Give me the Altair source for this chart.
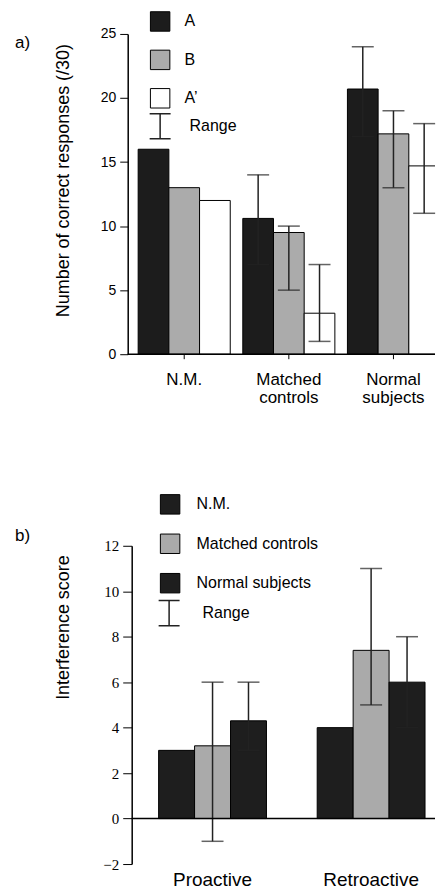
import altair as alt
import pandas as pd

SANS = "Liberation Sans"
SERIF = "Liberation Serif"

# ---------------- Panel a data ----------------
groups_a = ["N.M.", "Matched controls", "Normal subjects"]
conds_a = ["A", "B", "A’"]
mean_a_A = [16.0, 10.6, 20.7]
mean_a_B = [13.0, 9.5, 17.2]
mean_a_Ap = [12.0, 3.2, 14.7]
low_a_A = [None, 7.0, 17.0]
high_a_A = [None, 14.0, 24.0]
low_a_B = [None, 5.0, 13.0]
high_a_B = [None, 10.0, 19.0]
low_a_Ap = [None, 1.0, 11.0]
high_a_Ap = [None, 7.0, 18.0]
yticks_a = [0, 5, 10, 15, 20, 25]
colors_a = ["#1c1c1c", "#ababab", "#ffffff"]

# ---------------- Panel b data ----------------
types_b = ["Proactive", "Retroactive"]
groups_b = ["N.M.", "Matched controls", "Normal subjects"]
mean_b_NM = [3.0, 4.0]
mean_b_MC = [3.2, 7.4]
mean_b_NS = [4.3, 6.0]
low_b_MC = [-1.0, 5.0]
high_b_MC = [6.0, 11.0]
low_b_NS = [3.0, 4.0]
high_b_NS = [6.0, 8.0]
yticks_b = [-2, 0, 2, 4, 6, 8, 10, 12]
colors_b = ["#1e1e1e", "#aaaaaa", "#1e1e1e"]

# ---------------- tables ----------------
rows_a = []
for cond, means, lows, highs in [
    (conds_a[0], mean_a_A, low_a_A, high_a_A),
    (conds_a[1], mean_a_B, low_a_B, high_a_B),
    (conds_a[2], mean_a_Ap, low_a_Ap, high_a_Ap),
]:
    for g, m, lo, hi in zip(groups_a, means, lows, highs):
        rows_a.append({"group": g, "cond": cond, "mean": m, "low": lo, "high": hi, "kind": "Range"})
df_a = pd.DataFrame(rows_a)
err_a = df_a.dropna(subset=["low", "high"])
grp_a = pd.DataFrame({"group": groups_a})

rows_b = []
for g, means, lows, highs in [
    (groups_b[0], mean_b_NM, [None, None], [None, None]),
    (groups_b[1], mean_b_MC, low_b_MC, high_b_MC),
    (groups_b[2], mean_b_NS, low_b_NS, high_b_NS),
]:
    for t, m, lo, hi in zip(types_b, means, lows, highs):
        rows_b.append({"type": t, "grp": g, "mean": m, "low": lo, "high": hi, "kind": "Range"})
df_b = pd.DataFrame(rows_b)
err_b = df_b.dropna(subset=["low", "high"])

W = 308
HA = 321
HB = 319
ERR = "#222222"
RANGE_PATH = "M-1,-1.2H1M0,-1.2V1.2M-1,1.2H1"

# ---------------- Panel a ----------------
xsc_a = alt.Scale(domain=groups_a, range=[0, 323], paddingInner=0.12, paddingOuter=0.1)
xa = alt.X("group:N", sort=groups_a, title=None, scale=xsc_a, axis=None)
xoa = alt.XOffset("cond:N", sort=conds_a, scale=alt.Scale(domain=conds_a, paddingInner=0, paddingOuter=0))
TITLE_A = "Number of correct responses (/30)"
yaxis_a = alt.Axis(values=yticks_a, title=None,
                   labelFont=SANS, labelFontSize=14, labelColor="black", labelPadding=4,
                   tickSize=8, tickColor="black", domainColor="black", domainWidth=1.5, grid=False)
ysc_a = alt.Scale(domain=[0, 25], nice=False)

bars_a = alt.Chart(df_a).mark_bar(stroke="black", strokeWidth=1, clip=True).encode(
    x=xa, xOffset=xoa,
    y=alt.Y("mean:Q", scale=ysc_a, axis=yaxis_a, title=None),
    color=alt.Color("cond:N", sort=conds_a,
                    scale=alt.Scale(domain=conds_a, range=colors_a),
                    legend=alt.Legend(orient="none", legendX=22, legendY=-23, title=None,
                                      symbolType="square", symbolSize=380,
                                      symbolStrokeColor="black", symbolStrokeWidth=1,
                                      labelFont=SANS, labelFontSize=16, labelColor="black",
                                      labelOffset=14, rowPadding=13.5, padding=0)),
)
rules_a = alt.Chart(err_a).mark_rule(color=ERR, strokeWidth=1.5).encode(
    x=xa, xOffset=xoa,
    y=alt.Y("low:Q", scale=ysc_a, title=None), y2="high:Q",
    opacity=alt.Opacity("kind:N", scale=alt.Scale(domain=["Range"], range=[1]),
                        legend=alt.Legend(orient="none", legendX=21, legendY=81, title=None,
                                          symbolType=RANGE_PATH, symbolSize=441,
                                          symbolStrokeColor=ERR, symbolFillColor="transparent",
                                          symbolStrokeWidth=1.5,
                                          labelFont=SANS, labelFontSize=16, labelColor="black",
                                          labelOffset=18, padding=0)),
)
caps_lo_a = alt.Chart(err_a).mark_tick(color=ERR, size=22, thickness=1.5, orient="horizontal").encode(
    x=xa, xOffset=xoa, y=alt.Y("low:Q", scale=ysc_a, title=None))
caps_hi_a = alt.Chart(err_a).mark_tick(color=ERR, size=22, thickness=1.5, orient="horizontal").encode(
    x=xa, xOffset=xoa, y=alt.Y("high:Q", scale=ysc_a, title=None))
base_a = alt.Chart(pd.DataFrame({"z": [0]})).mark_rule(color="black", strokeWidth=1.5).encode(
    y=alt.Y("z:Q", scale=ysc_a, title=None), x=alt.value(0), x2=alt.value(W))
xticks_a = alt.Chart(grp_a).mark_rule(color="black", strokeWidth=1).encode(
    x=xa, y=alt.value(HA), y2=alt.value(HA + 5))
xlabels_a = alt.Chart(grp_a).mark_text(
    lineBreak=" ", lineHeight=18, baseline="middle", align="center",
    font=SANS, fontSize=17, color="black").encode(
    x=xa, y=alt.value(HA + 26), text="group:N")
ytitle_a = alt.Chart(pd.DataFrame({"t": [TITLE_A]})).mark_text(
    angle=270, align="center", baseline="middle", font=SANS, fontSize=18, color="black").encode(
    text="t:N", x=alt.value(-64), y=alt.value(147))
lab_a = alt.Chart(pd.DataFrame({"t": ["a)"]})).mark_text(
    align="left", baseline="middle", font=SANS, fontSize=17, color="black").encode(
    text="t:N", x=alt.value(-113), y=alt.value(9))

chart_a = alt.layer(bars_a, rules_a, caps_lo_a, caps_hi_a, base_a, xticks_a, xlabels_a,
                    ytitle_a, lab_a).properties(width=W, height=HA)

# ---------------- Panel b ----------------
xb = alt.X("type:N", sort=types_b, title=None,
           scale=alt.Scale(domain=types_b, range=[31, 298], paddingInner=0.32, paddingOuter=0),
           axis=alt.Axis(domain=False, ticks=False, labelAngle=0, labelFont=SANS, labelFontSize=19,
                         labelColor="black", labelBaseline="alphabetic", labelPadding=22))
xob = alt.XOffset("grp:N", sort=groups_b, scale=alt.Scale(domain=groups_b, paddingInner=0, paddingOuter=0))
TITLE_B = "Interference score"
yaxis_b = alt.Axis(values=yticks_b, title=None, offset=-4,
                   labelFont=SERIF, labelFontSize=15, labelColor="black", labelPadding=4,
                   tickSize=9, tickColor="black", domainColor="black", domainWidth=1.5, grid=False)
ysc_b = alt.Scale(domain=[-2, 12], nice=False, zero=False)

bars_b = alt.Chart(df_b).mark_bar(stroke="black", strokeWidth=1).encode(
    x=xb, xOffset=xob,
    y=alt.Y("mean:Q", scale=ysc_b, axis=yaxis_b, title=None),
    y2=alt.datum(0),
    color=alt.Color("grp:N", sort=groups_b,
                    scale=alt.Scale(domain=groups_b, range=colors_b),
                    legend=alt.Legend(orient="none", legendX=32, legendY=-52, title=None,
                                      symbolType="square", symbolSize=380,
                                      symbolStrokeColor="black", symbolStrokeWidth=1,
                                      labelFont=SANS, labelFontSize=16, labelColor="black",
                                      labelOffset=16, rowPadding=14.5, padding=0)),
)
rules_b = alt.Chart(err_b).mark_rule(color=ERR, strokeWidth=1.5).encode(
    x=xb, xOffset=xob,
    y=alt.Y("low:Q", scale=ysc_b, title=None), y2="high:Q",
    opacity=alt.Opacity("kind:N", scale=alt.Scale(domain=["Range"], range=[1]),
                        legend=alt.Legend(orient="none", legendX=30, legendY=56, title=None,
                                          symbolType=RANGE_PATH, symbolSize=441,
                                          symbolStrokeColor=ERR, symbolFillColor="transparent",
                                          symbolStrokeWidth=1.5,
                                          labelFont=SANS, labelFontSize=16, labelColor="black",
                                          labelOffset=22, padding=0)),
)
caps_lo_b = alt.Chart(err_b).mark_tick(color=ERR, size=22, thickness=1.5, orient="horizontal").encode(
    x=xb, xOffset=xob, y=alt.Y("low:Q", scale=ysc_b, title=None))
caps_hi_b = alt.Chart(err_b).mark_tick(color=ERR, size=22, thickness=1.5, orient="horizontal").encode(
    x=xb, xOffset=xob, y=alt.Y("high:Q", scale=ysc_b, title=None))
base_b = alt.Chart(pd.DataFrame({"z": [0]})).mark_rule(color="black", strokeWidth=1.5).encode(
    y=alt.Y("z:Q", scale=ysc_b, title=None), x=alt.value(4), x2=alt.value(W))
ytitle_b = alt.Chart(pd.DataFrame({"t": [TITLE_B]})).mark_text(
    angle=270, align="center", baseline="middle", font=SANS, fontSize=18, color="black").encode(
    text="t:N", x=alt.value(-64), y=alt.value(82))
lab_b = alt.Chart(pd.DataFrame({"t": ["b)"]})).mark_text(
    align="left", baseline="middle", font=SANS, fontSize=17, color="black").encode(
    text="t:N", x=alt.value(-113), y=alt.value(-10))

chart_b = alt.layer(bars_b, rules_b, caps_lo_b, caps_hi_b, base_b, ytitle_b, lab_b).properties(
    width=W, height=HB)

chart = alt.vconcat(chart_a, chart_b, spacing=192, bounds="flush").resolve_scale(
    color="independent", opacity="independent", xOffset="independent",
    x="independent", y="independent",
).resolve_legend(color="independent", opacity="independent").configure(
    padding={"left": 15, "top": 10, "right": 0, "bottom": 0},
    background="white",
).configure_view(stroke=None)

chart.save("out.html", embed_options={"renderer": "svg", "actions": False})
